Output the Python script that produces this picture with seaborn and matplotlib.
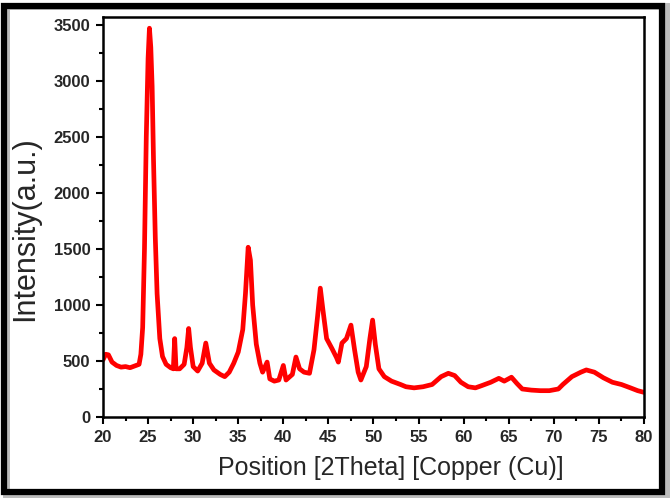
import matplotlib
matplotlib.use("Agg")
import matplotlib.pyplot as plt
import seaborn as sns
import pandas as pd
from matplotlib.patches import Rectangle
from matplotlib.ticker import MultipleLocator

two_theta = [20.0, 20.3, 20.6, 21.0, 21.5, 22.0, 22.5, 23.0, 23.5, 24.0, 24.2, 24.4, 24.6, 24.8,
             25.0, 25.15, 25.3, 25.45, 25.6, 25.8, 26.0, 26.3, 26.6, 27.0, 27.5, 27.8, 27.95,
             28.1, 28.5, 29.0, 29.3, 29.5, 29.7, 30.0, 30.5, 31.0, 31.4, 31.8, 32.3, 33.0, 33.5,
             34.0, 34.5, 35.0, 35.5, 35.8, 36.1, 36.35, 36.6, 37.0, 37.4, 37.7, 38.2, 38.5, 39.0,
             39.5, 40.0, 40.3, 41.0, 41.4, 41.8, 42.3, 42.9, 43.4, 43.8, 44.1, 44.4, 44.8, 45.4,
             45.9, 46.1, 46.5, 47.0, 47.5, 47.9, 48.3, 48.6, 49.2, 49.6, 49.9, 50.2, 50.6, 51.2,
             52.0, 53.0, 53.6, 54.5, 55.5, 56.5, 57.5, 58.3, 59.0, 59.7, 60.5, 61.3, 62.0, 63.0,
             63.9, 64.5, 65.3, 65.9, 66.5, 67.5, 68.5, 69.5, 70.5, 71.0, 72.0, 73.0, 73.6, 74.5,
             75.5, 76.5, 77.5, 78.5, 79.3, 80.0]
intensity = [510, 560, 555, 490, 460, 445, 450, 440, 455, 470, 560, 800, 1500, 2500,
             3200, 3470, 3300, 2950, 2300, 1600, 1100, 700, 540, 470, 440, 430, 700,
             430, 430, 470, 620, 790, 620, 450, 410, 480, 660, 480, 420, 380, 360,
             400, 480, 580, 780, 1100, 1515, 1400, 1000, 650, 480, 400, 490, 340, 320,
             330, 460, 330, 380, 535, 430, 400, 390, 600, 900, 1150, 950, 700, 610,
             530, 490, 660, 700, 820, 600, 400, 330, 450, 700, 865, 650, 430, 360,
             320, 290, 270, 260, 270, 290, 360, 390, 370, 310, 270, 260, 280, 310,
             345, 320, 355, 300, 250, 240, 235, 235, 250, 290, 360, 400, 420, 400,
             350, 310, 290, 260, 235, 220]

x_ticks = [20, 25, 30, 35, 40, 45, 50, 55, 60, 65, 70, 75, 80]
y_ticks = [0, 500, 1000, 1500, 2000, 2500, 3000, 3500]

df = pd.DataFrame({"two_theta": two_theta, "intensity": intensity})

sns.set_theme(style="ticks")
plt.rcParams['font.family'] = ['Liberation Sans', 'DejaVu Sans']

W, H = 670, 498
fig = plt.figure(figsize=(W / 100, H / 100), dpi=100)
ax = fig.add_axes([103 / W, 1 - 417 / H, (644 - 103) / W, (417 - 17) / H])

sns.lineplot(data=df, x="two_theta", y="intensity", ax=ax, color="#ff0000",
             linewidth=3.4, estimator=None, sort=False)

ax.set_xlim(20, 80)
ax.set_ylim(0, 3570)
ax.set_xticks(x_ticks)
ax.set_yticks(y_ticks)
ax.xaxis.set_minor_locator(MultipleLocator(2.5))
ax.yaxis.set_minor_locator(MultipleLocator(250))
ax.tick_params(axis="both", which="major", direction="out", length=5, width=1.5,
               labelsize=12, color="black", pad=4)
ax.tick_params(axis="both", which="minor", direction="out", length=3, width=1.5, color="black")
for lab in ax.get_xticklabels() + ax.get_yticklabels():
    lab.set_fontweight("bold")
for s in ax.spines.values():
    s.set_linewidth(1.8)
    s.set_color("black")

ax.set_xlabel("Position [2Theta] [Copper (Cu)]", fontsize=18)
ax.set_ylabel("Intensity(a.u.)", fontsize=22)
ax.xaxis.set_label_coords(0.532, -0.098)
ax.yaxis.set_label_coords(-0.116, 0.47)

# outer frame with shadow
fig.patches.append(Rectangle((6 / W, 4 / H), (W - 10) / W, (H - 10) / H, transform=fig.transFigure,
                             fill=False, edgecolor="#bbbbbb", linewidth=5, zorder=0))
fig.patches.append(Rectangle((4 / W, 6 / H), (W - 12) / W, (H - 12) / H, transform=fig.transFigure,
                             fill=False, edgecolor="black", linewidth=4.5, zorder=1))

fig.savefig("out.png", dpi=100)
